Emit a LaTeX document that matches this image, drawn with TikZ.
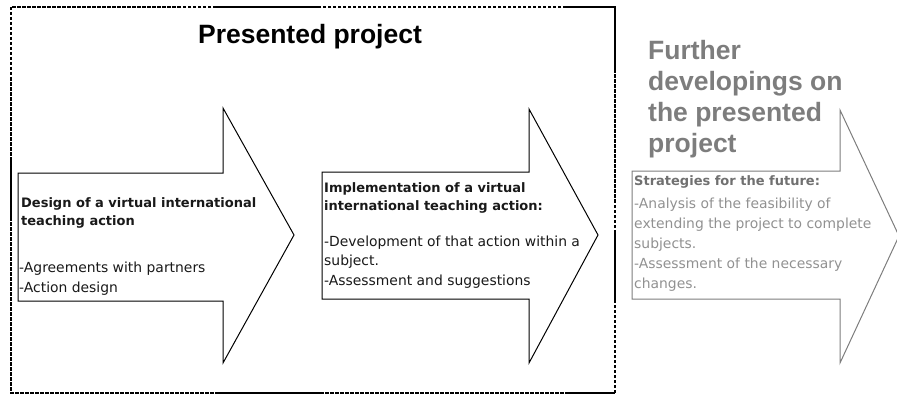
\documentclass[tikz,border=0pt]{standalone}
\usepackage{fontspec}
\setmainfont{DejaVu Sans}
\newfontfamily\titlefont{Liberation Sans}
\definecolor{futuregray}{RGB}{125,125,125}
\definecolor{futurelight}{RGB}{145,145,145}
\definecolor{bodyblack}{RGB}{25,25,25}

\begin{document}
\begin{tikzpicture}[x=1pt, y=-1pt,
        frame/.style={line width=2.6pt, dash pattern=on 3.5pt off 1.5pt},
        frameseg/.style={line width=2.6pt},
        arrowshape/.style={draw, line width=1pt, line join=miter},
        heading/.style={font=\titlefont\fontsize{26.5}{30.7}\selectfont\bfseries, inner sep=0pt},
        lead/.style={font=\fontsize{13}{17.5}\selectfont\bfseries, align=left, anchor=base west, inner sep=0pt},
        body/.style={font=\fontsize{13.9}{19.5}\selectfont, align=left, anchor=base west, inner sep=0pt}
    ]
    \useasboundingbox (0,0) rectangle (897,396);
    \clip (0,0) rectangle (897,396);

    % Frame round the presented project
    \draw[frame] (11,7) rectangle (615,393);
    \draw[frameseg] (215,7) -- (320,7);
    \draw[frameseg] (565,7) -- (615,7) -- (615,70);
    \draw[frameseg] (615,230) -- (615,300);
    \draw[frameseg] (215,393) -- (320,393);
    \draw[frameseg] (567,393) -- (615,393);
    \draw[frameseg] (11,160) -- (11,220);

    % Arrows
    \draw[arrowshape] (18,173) -- (223,173) -- (223,108) -- (294,235) -- (223,363) -- (223,301) -- (18,301) -- cycle;
    \draw[arrowshape] (322,172) -- (529,172) -- (529,109) -- (598,235) -- (529,363) -- (529,299) -- (322,299) -- cycle;
    \draw[arrowshape, draw=futuregray] (632,171) -- (840,171) -- (840,110) -- (899,236) -- (840,363) -- (840,299) -- (632,299) -- cycle;

    % Nodes (placed at the baseline of their last line)
    \node[heading, anchor=base] (title) at (310,44) {Presented project};
    \node[heading, text=futuregray, align=left, anchor=base west] (further) at (648,152)
        {Further\\developings on\\the presented\\project};

    \node[lead, text=bodyblack] (design) at (21,225) {Design of a virtual international\\teaching action};
    \node[body, text=bodyblack] (designbody) at (19,292) {-Agreements with partners\\-Action design};

    \node[lead, text=bodyblack] (impl) at (324,210) {Implementation of a virtual\\international teaching action:};
    \node[body, text=bodyblack] (implbody) at (324,285) {-Development of that action within a\\subject.\\-Assessment and suggestions};

    \node[lead, text=futuregray!90!black] (strat) at (634,185) {Strategies for the future:};
    \node[body, text=futurelight, font=\fontsize{13.9}{20}\selectfont] (stratbody) at (634,288)
        {-Analysis of the feasibility of\\extending the project to complete\\subjects.\\-Assessment of the necessary\\changes.};

\end{tikzpicture}
\end{document}
